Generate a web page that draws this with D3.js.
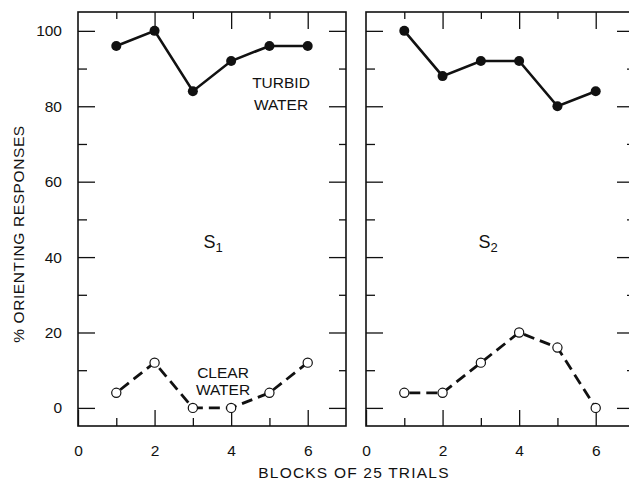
<!DOCTYPE html>
<html>
<head>
<meta charset="utf-8">
<script src="https://cdn.jsdelivr.net/npm/d3@7"></script>
<style>
  body { margin: 0; background: #fff; }
  svg { display: block; }
  text { font-family: "Liberation Sans", Arial, sans-serif; fill: #111; }
  .tick line { stroke: #111; stroke-width: 1.3; }
  .tick text { font-size: 15.5px; }
</style>
</head>
<body>
<div class="chart"></div>
<script>
// data
var blocks = [1, 2, 3, 4, 5, 6];
var turbidS1 = [96, 100, 84, 92, 96, 96];
var clearS1 = [4, 12, 0, 0, 4, 12];
var turbidS2 = [100, 88, 92, 92, 80, 84];
var clearS2 = [4, 4, 12, 20, 16, 0];
var yMajor = [0, 20, 40, 60, 80, 100];
var yMinor = [10, 30, 50, 70, 90];
var xMajor = [0, 2, 4, 6];
var xMinor = [1, 3, 5];

var svgWidth = 629, svgHeight = 484;

var svg = d3.select(".chart").append("svg")
    .attr("width", svgWidth)
    .attr("height", svgHeight);

var yScale = d3.scaleLinear().domain([-4.8, 105]).range([426, 12]);

var panels = [
    { name: "S", sub: "1", left: 78, right: 346, turbid: turbidS1, clear: clearS1, yLabels: true,
      labelX: 213 },
    { name: "S", sub: "2", left: 366, right: 634, turbid: turbidS2, clear: clearS2, yLabels: false,
      labelX: 488 }
];

panels.forEach(function (p) {
    var x = d3.scaleLinear().domain([0, 7]).range([p.left, p.right]);
    var g = svg.append("g");

    // frame
    g.append("rect")
        .attr("x", p.left).attr("y", yScale(105))
        .attr("width", p.right - p.left).attr("height", yScale(-4.8) - yScale(105))
        .attr("fill", "none").attr("stroke", "#111").attr("stroke-width", 1.6);

    // left axis (ticks inward)
    var leftMajor = d3.axisLeft(yScale).tickValues(yMajor).tickSize(-17).tickPadding(16)
        .tickFormat(p.yLabels ? d3.format("d") : "");
    g.append("g").attr("transform", `translate(${p.left},0)`).call(leftMajor)
        .call(a => a.select(".domain").remove());
    g.append("g").attr("transform", `translate(${p.left},0)`)
        .call(d3.axisLeft(yScale).tickValues(yMinor).tickSize(-9).tickFormat(""))
        .call(a => a.select(".domain").remove());

    // right axis (ticks inward)
    g.append("g").attr("transform", `translate(${p.right},0)`)
        .call(d3.axisRight(yScale).tickValues(yMajor).tickSize(-17).tickFormat(""))
        .call(a => a.select(".domain").remove());
    g.append("g").attr("transform", `translate(${p.right},0)`)
        .call(d3.axisRight(yScale).tickValues(yMinor).tickSize(-7).tickFormat(""))
        .call(a => a.select(".domain").remove());

    // bottom axis
    g.append("g").attr("transform", `translate(0,${yScale(-4.8)})`)
        .call(d3.axisBottom(x).tickValues(xMajor).tickSize(-16).tickPadding(19).tickFormat(d3.format("d")))
        .call(a => a.select(".domain").remove());
    g.append("g").attr("transform", `translate(0,${yScale(-4.8)})`)
        .call(d3.axisBottom(x).tickValues(xMinor).tickSize(-8).tickFormat(""))
        .call(a => a.select(".domain").remove());

    // top axis
    g.append("g").attr("transform", `translate(0,${yScale(105)})`)
        .call(d3.axisTop(x).tickValues([2, 4, 6]).tickSize(-17).tickFormat(""))
        .call(a => a.select(".domain").remove());
    g.append("g").attr("transform", `translate(0,${yScale(105)})`)
        .call(d3.axisTop(x).tickValues(xMinor).tickSize(-7).tickFormat(""))
        .call(a => a.select(".domain").remove());

    var line = d3.line()
        .x((d, i) => x(blocks[i]))
        .y(d => yScale(d));

    // turbid water: solid line, filled dots
    g.append("path").datum(p.turbid)
        .attr("d", line)
        .attr("fill", "none").attr("stroke", "#111").attr("stroke-width", 2.6);
    g.selectAll(".dotT").data(p.turbid).enter().append("circle")
        .attr("cx", (d, i) => x(blocks[i]))
        .attr("cy", d => yScale(d))
        .attr("r", 5)
        .attr("fill", "#111");

    // clear water: dashed line, open dots
    g.append("path").datum(p.clear)
        .attr("d", line)
        .attr("fill", "none").attr("stroke", "#111").attr("stroke-width", 2.8)
        .attr("stroke-dasharray", "11,6").attr("stroke-dashoffset", -5);
    g.selectAll(".dotC").data(p.clear).enter().append("circle")
        .attr("cx", (d, i) => x(blocks[i]))
        .attr("cy", d => yScale(d))
        .attr("r", 4.6)
        .attr("fill", "#fff").attr("stroke", "#111").attr("stroke-width", 1.2);

    // subject label
    var s = g.append("text")
        .attr("x", p.labelX).attr("y", 248)
        .attr("text-anchor", "middle")
        .style("font-size", "18px");
    s.append("tspan").text(p.name);
    s.append("tspan").attr("dy", 4).style("font-size", "13px").text(p.sub);
});

// series labels
var lab = svg.append("g").style("font-size", "15.5px").attr("text-anchor", "middle");
lab.append("text").attr("x", 281).attr("y", 88).text("TURBID");
lab.append("text").attr("x", 281).attr("y", 110).text("WATER");
lab.append("text").attr("x", 223).attr("y", 378).text("CLEAR");
lab.append("text").attr("x", 223).attr("y", 395).text("WATER");

// axis titles
svg.append("text")
    .attr("transform", "translate(24,234)rotate(-90)")
    .attr("text-anchor", "middle")
    .style("font-size", "15.5px")
    .style("letter-spacing", "0.6px")
    .text("% ORIENTING RESPONSES");

svg.append("text")
    .attr("x", 354).attr("y", 478)
    .attr("text-anchor", "middle")
    .style("font-size", "15.5px")
    .style("letter-spacing", "1.2px")
    .text("BLOCKS OF 25 TRIALS");
</script>
</body>
</html>
